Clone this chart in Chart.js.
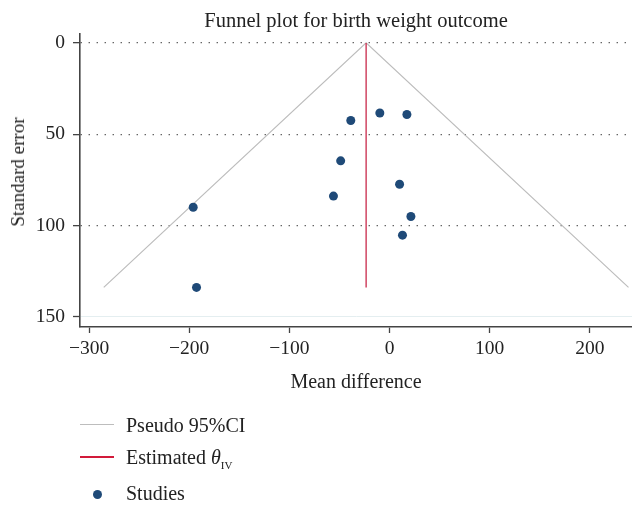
<!DOCTYPE html>
<html><head><meta charset="utf-8">
<script src="https://cdn.jsdelivr.net/npm/chart.js@4.4.0/dist/chart.umd.min.js"></script>
<style>
html,body{margin:0;padding:0;background:#fff;}
#wrap{position:relative;width:632px;height:505px;font-family:"Liberation Serif",serif;color:#222;}
canvas{position:absolute;left:0;top:0;}
.lg{position:absolute;font-size:20px;line-height:22px;white-space:nowrap;}
#ytitle{position:absolute;left:18px;top:171.5px;font-size:19px;line-height:20px;white-space:nowrap;
  transform:translate(-50%,-50%) rotate(-90deg);}
</style></head><body>
<div id="wrap">
<canvas id="c" width="632" height="505"></canvas>
<div id="ytitle">Standard error</div>
<div style="position:absolute;left:80px;top:424px;width:34px;height:1px;background:#bdbdbd"></div>
<div class="lg" style="left:126px;top:414px">Pseudo 95%CI</div>
<div style="position:absolute;left:80px;top:456px;width:34px;height:2px;background:#d21a3a"></div>
<div class="lg" style="left:126px;top:446px">Estimated <i>θ</i><sub style="font-size:11px;vertical-align:-5px">IV</sub></div>
<div style="position:absolute;left:92.5px;top:489.5px;width:9px;height:9px;border-radius:50%;background:#1f4a78"></div>
<div class="lg" style="left:126px;top:482px">Studies</div>
</div>
<script>
// Data
const studyMeanDiff = [-38.7, -9.7, 17.3, -48.8, 10.0, -56.0, -196.0, 21.3, 12.9, -192.7];
const studySE       = [42.5, 38.4, 39.2, 64.6, 77.4, 83.9, 90.0, 95.1, 105.3, 133.9];
const thetaIV = -23.4;
const ciMeanDiff = [-285.3, -23.4, 238.5];
const ciSE       = [133.9, 0, 133.9];
const estMeanDiff = [thetaIV, thetaIV];
const estSE       = [0, 133.9];
const xTicks = [-300, -200, -100, 0, 100, 200];
const yTicks = [0, 50, 100, 150];

const toPts = (xs, ys) => xs.map((x, i) => ({x: x, y: ys[i]}));
const serif = "'Liberation Serif', serif";

new Chart(document.getElementById('c'), {
  type: 'scatter',
  data: {
    datasets: [
      {label: 'Pseudo 95%CI', data: toPts(ciMeanDiff, ciSE), showLine: true,
       borderColor: '#bdbdbd', borderWidth: 1.2, pointRadius: 0, fill: false, order: 3},
      {label: 'Estimated θIV', data: toPts(estMeanDiff, estSE), showLine: true,
       borderColor: '#c8284a', borderWidth: 1.3, pointRadius: 0, fill: false, order: 2},
      {label: 'Studies', data: toPts(studyMeanDiff, studySE),
       backgroundColor: '#1f4a78', borderColor: '#1f4a78', pointRadius: 4.5, borderWidth: 0, order: 1}
    ]
  },
  options: {
    responsive: false,
    devicePixelRatio: 1,
    animation: false,
    layout: {autoPadding: false, padding: {left: 0, right: 0, top: 0, bottom: 108}},
    plugins: {
      legend: {display: false},
      tooltip: {enabled: false},
      title: {display: true, text: 'Funnel plot for birth weight outcome', fullSize: false,
        color: '#222', font: {family: serif, size: 20.5, weight: 'normal'}, padding: {top: 9, bottom: 0}}
    },
    scales: {
      x: {
        type: 'linear', min: -309, max: 242,
        afterBuildTicks: s => { s.ticks = xTicks.map(v => ({value: v})); },
        afterFit: s => { s.height = 70; s.paddingLeft = 0; s.paddingRight = 0; },
        ticks: {color: '#222', font: {family: serif, size: 19.5}, padding: 4,
          callback: v => String(v).replace('-', '\u2212'), maxRotation: 0, autoSkip: false},
        grid: {drawOnChartArea: false, drawTicks: true, tickLength: 6, tickColor: '#444', tickWidth: 1.3},
        border: {display: true, color: '#444', width: 1.6},
        title: {display: true, text: 'Mean difference', color: '#222',
          font: {family: serif, size: 20}, padding: {top: 0, bottom: 2}}
      },
      y: {
        type: 'linear', reverse: true, min: -5.1, max: 155.6,
        afterBuildTicks: s => { s.ticks = yTicks.map(v => ({value: v})); },
        afterFit: s => { s.width = 80; s.paddingTop = 0; s.paddingBottom = 0; },
        ticks: {color: '#222', font: {family: serif, size: 19.5}, padding: 8, autoSkip: false},
        grid: {drawOnChartArea: true, drawTicks: true, tickLength: 7, tickColor: '#444', tickWidth: 1.3,
          color: c => (c.tick && c.tick.value === 150) ? '#e4eef0' : '#555',
          lineWidth: c => (c.tick && c.tick.value === 150) ? 1 : 1.3},
        border: {display: true, color: '#444', width: 1.6,
          dash: c => (c.tick && c.tick.value === 150) ? [] : [1.3, 6.7]},
        title: {display: false}
      }
    }
  }
});
</script>
</body></html>
